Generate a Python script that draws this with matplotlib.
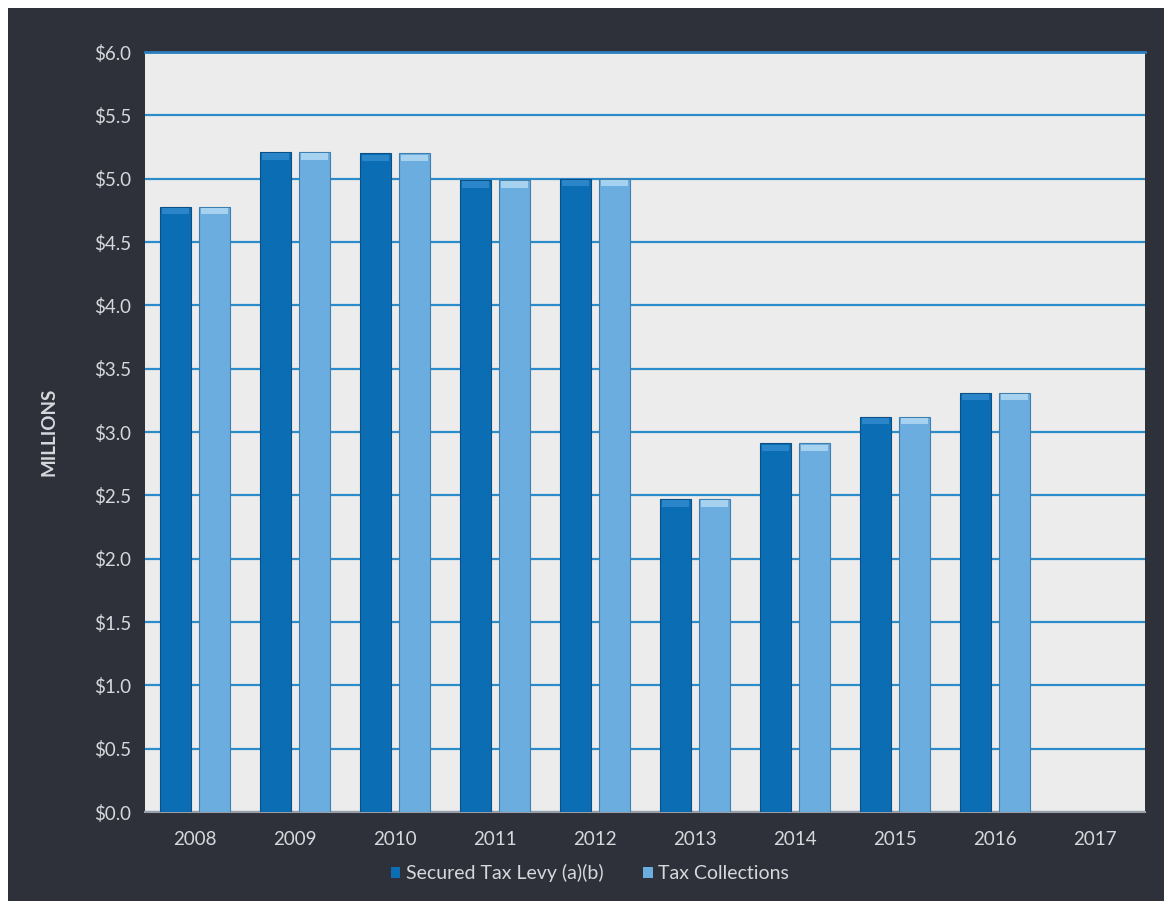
import numpy as np
import matplotlib.pyplot as plt
from matplotlib.patches import Rectangle, Patch

years = ['2008', '2009', '2010', '2011', '2012', '2013', '2014', '2015', '2016', '2017']
levy = [4.78, 5.21, 5.20, 4.99, 5.00, 2.47, 2.91, 3.12, 3.31, np.nan]
collections = [4.78, 5.21, 5.20, 4.99, 5.00, 2.47, 2.91, 3.12, 3.31, np.nan]

dark = '#0b6db3'
light = '#6badde'
txt = '#d6d8dc'

plt.rcParams['font.family'] = ['Lato', 'DejaVu Sans']

fig = plt.figure(figsize=(11.64, 9.07), dpi=100, facecolor='white')
# dark panel behind the chart
fig.patches.append(Rectangle((8 / 1164, 6 / 907), 1 - 8 / 1164, 1 - 14 / 907,
                             transform=fig.transFigure, facecolor='#2e3139',
                             edgecolor='none', zorder=-10))

ax = fig.add_axes([145 / 1164, 95 / 907, 1000 / 1164, 760 / 907])
ax.set_zorder(1)
ax.set_facecolor('#ececec')

x = np.arange(len(years))
w = 0.31
ax.bar(x - 0.195, levy, w, color=dark, edgecolor='#0a4f85', linewidth=0.8, zorder=3)
ax.bar(x + 0.195, collections, w, color=light, edgecolor='#3f7fb0', linewidth=0.8, zorder=3)
# subtle lighter caps on top of the bars
cap = 0.05
ax.bar(x - 0.195, [cap if not np.isnan(v) else 0 for v in levy], w * 0.9,
       bottom=[v - cap - 0.01 if not np.isnan(v) else 0 for v in levy],
       color='#2a86c8', edgecolor='none', zorder=4)
ax.bar(x + 0.195, [cap if not np.isnan(v) else 0 for v in collections], w * 0.9,
       bottom=[v - cap - 0.01 if not np.isnan(v) else 0 for v in collections],
       color='#a6d2f0', edgecolor='none', zorder=4)

ax.set_xlim(-0.5, len(years) - 0.5)
ax.set_ylim(0, 6.0)
ax.set_yticks(np.arange(0, 6.01, 0.5))
ax.set_yticklabels(['$%.1f' % v for v in np.arange(0, 6.01, 0.5)])
ax.set_xticks(x)
ax.set_xticklabels(years)
ax.tick_params(length=0, colors=txt, labelsize=13.5)
ax.tick_params(axis='y', pad=10)
ax.tick_params(axis='x', pad=14)
ax.yaxis.grid(True, color='#2b8cc9', linewidth=1.6, zorder=1)
ax.set_axisbelow(True)
for s in ['left', 'right']:
    ax.spines[s].set_visible(False)
ax.spines['top'].set_color('#2b7fc0')
ax.spines['top'].set_linewidth(2)
ax.spines['bottom'].set_color('#9a9ea6')
ax.spines['bottom'].set_linewidth(1.5)

ax.set_ylabel('MILLIONS', color=txt, fontsize=13.5, fontweight='bold', labelpad=26)

handles = [Patch(facecolor=dark, edgecolor='none', label='Secured Tax Levy (a)(b)'),
           Patch(facecolor=light, edgecolor='none', label='Tax Collections')]
fig.legend(handles=handles, loc='center', bbox_to_anchor=(590 / 1164, 1 - 873 / 907),
           ncol=2, frameon=False, fontsize=14, labelcolor=txt,
           handlelength=0.5, handleheight=0.5, handletextpad=0.3, columnspacing=2.0)

fig.savefig('out.png', dpi=100, facecolor=fig.get_facecolor())
